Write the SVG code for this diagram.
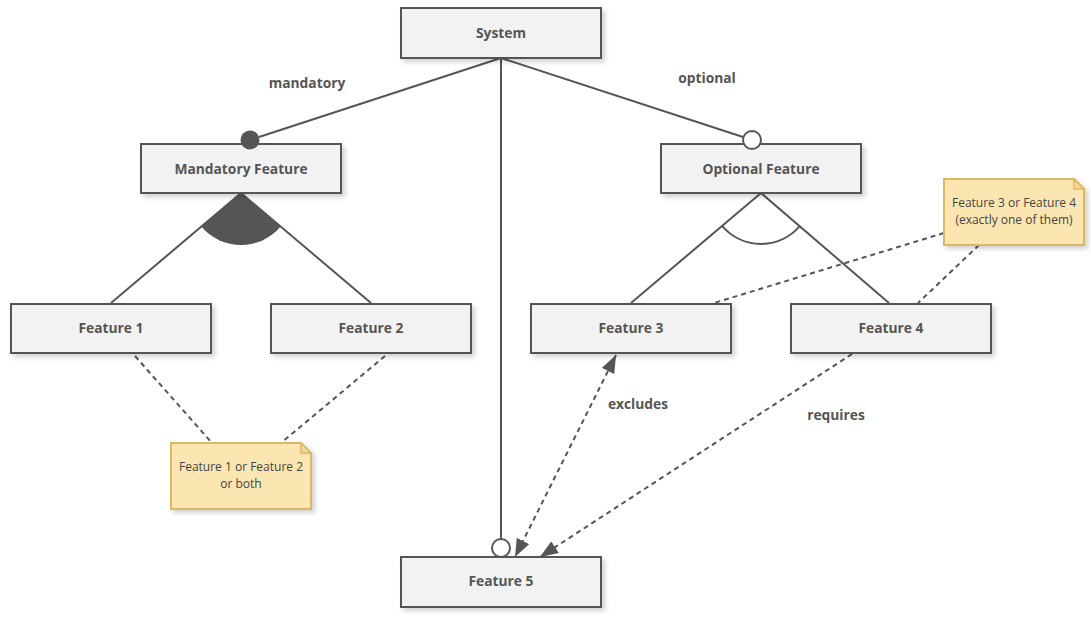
<svg xmlns="http://www.w3.org/2000/svg" width="1091" height="617" viewBox="0 0 1091 617">
<defs>
<filter id="sh" x="-10%" y="-20%" width="130%" height="160%">
<feDropShadow dx="3" dy="3" stdDeviation="2.5" flood-color="#000" flood-opacity="0.18"/>
</filter>
<marker id="arr" viewBox="0 0 18 14" refX="18" refY="7" markerWidth="18" markerHeight="14" markerUnits="userSpaceOnUse" orient="auto-start-reverse">
<path d="M0,0 L18,7 L0,14 Z" fill="#555"/>
</marker>
</defs>
<style>
.box{fill:#f2f2f2;stroke:#555;stroke-width:2;filter:url(#sh)}
.note{fill:#fbe6b1;stroke:#dcb865;stroke-width:2;filter:url(#sh)}
.fold{fill:#f3d995;stroke:#dcb865;stroke-width:1.5}
.lbl{font-family:"Open Sans","DejaVu Sans",sans-serif;font-size:13.8px;font-weight:bold;fill:#555;text-anchor:middle}
.ntxt{font-family:"Open Sans","DejaVu Sans",sans-serif;font-size:12px;fill:#444;text-anchor:middle}
.ln{stroke:#555;stroke-width:2;fill:none}
.dash{stroke:#555;stroke-width:2;fill:none;stroke-dasharray:5 4}
</style>
<rect width="1091" height="617" fill="#fff"/>
<g id="connectors">
<line class="ln" x1="501" y1="58" x2="259" y2="137"/>
<line class="ln" x1="501" y1="58" x2="743" y2="137"/>
<line class="ln" x1="501" y1="58" x2="501" y2="539"/>
<line class="ln" x1="241" y1="193" x2="111" y2="303"/>
<line class="ln" x1="241" y1="193" x2="371" y2="303"/>
<path d="M241,193 L201.3,226.6 A52,52 0 0,0 280.7,226.6 Z" fill="#555"/>
<line class="ln" x1="761" y1="193" x2="631" y2="303"/>
<line class="ln" x1="761" y1="193" x2="889" y2="303"/>
<path class="ln" d="M722.1,225.9 A51,51 0 0,0 799.7,226.2"/>
<line class="dash" x1="135" y1="356" x2="212" y2="443"/>
<line class="dash" x1="385" y1="356" x2="281" y2="443"/>
<line class="dash" x1="944" y1="233" x2="714" y2="303"/>
<line class="dash" x1="979" y1="245" x2="918" y2="303"/>
<line class="dash" x1="616" y1="355" x2="515" y2="557" marker-start="url(#arr)" marker-end="url(#arr)"/>
<line class="dash" x1="852" y1="354" x2="540" y2="557" marker-end="url(#arr)"/>
<text class="lbl" x="307" y="88">mandatory</text>
<text class="lbl" x="707" y="83">optional</text>
<text class="lbl" x="638" y="409">excludes</text>
<text class="lbl" x="836" y="420">requires</text>
</g>
<g id="system"><rect class="box" x="401" y="8" width="200" height="50"/><text class="lbl" x="501" y="38">System</text></g>
<g id="mandatory-feature"><rect class="box" x="141" y="144" width="200" height="49"/><text class="lbl" x="241" y="174">Mandatory Feature</text></g>
<g id="optional-feature"><rect class="box" x="661" y="144" width="200" height="49"/><text class="lbl" x="761" y="174">Optional Feature</text></g>
<g id="feature1"><rect class="box" x="11" y="304" width="200" height="49"/><text class="lbl" x="111" y="333">Feature 1</text></g>
<g id="feature2"><rect class="box" x="271" y="304" width="200" height="49"/><text class="lbl" x="371" y="333">Feature 2</text></g>
<g id="feature3"><rect class="box" x="531" y="304" width="200" height="49"/><text class="lbl" x="631" y="333">Feature 3</text></g>
<g id="feature4"><rect class="box" x="791" y="304" width="200" height="49"/><text class="lbl" x="891" y="333">Feature 4</text></g>
<g id="feature5"><rect class="box" x="401" y="557" width="200" height="50"/><text class="lbl" x="501" y="586">Feature 5</text></g>
<g id="ends">
<circle cx="250" cy="140" r="9.5" fill="#555"/>
<circle cx="752" cy="140" r="9" fill="#fff" stroke="#555" stroke-width="2"/>
<circle cx="501" cy="548" r="9" fill="#fff" stroke="#555" stroke-width="2"/>
</g>
<g id="note1">
<path class="note" d="M171,443 H301 L311,453 V509 H171 Z"/>
<path class="fold" d="M301,443 V453 H311 Z"/>
<text class="ntxt" x="241" y="471">Feature 1 or Feature 2</text>
<text class="ntxt" x="241" y="488">or both</text>
</g>
<g id="note2">
<path class="note" d="M944,179 H1074 L1084,189 V245 H944 Z"/>
<path class="fold" d="M1074,179 V189 H1084 Z"/>
<text class="ntxt" x="1014" y="207">Feature 3 or Feature 4</text>
<text class="ntxt" x="1014" y="224">(exactly one of them)</text>
</g>
</svg>
